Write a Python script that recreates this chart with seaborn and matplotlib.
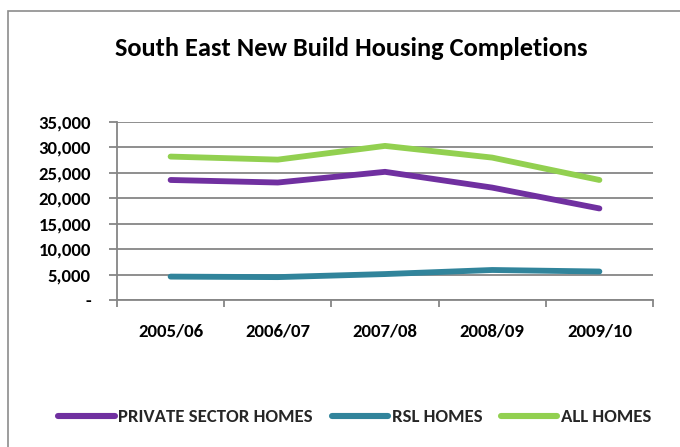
import matplotlib
matplotlib.use("Agg")
import matplotlib.pyplot as plt
import matplotlib.patches as mpatches
from matplotlib.lines import Line2D
from matplotlib.ticker import FixedLocator, FuncFormatter
import seaborn as sns
import pandas as pd

# Housing completions by financial year
years = ["2005/06", "2006/07", "2007/08", "2008/09", "2009/10"]
private_sector = [23600, 23100, 25200, 22100, 18000]
rsl = [4600, 4500, 5100, 5900, 5600]
all_homes = [28200, 27600, 30300, 28000, 23600]

series_names = ["PRIVATE SECTOR HOMES", "RSL HOMES", "ALL HOMES"]
colors = ["#7030A0", "#31849B", "#92D050"]

df = pd.concat([
    pd.DataFrame({"year": years, "pos": range(len(years)), "value": vals, "series": name})
    for name, vals in zip(series_names, [private_sector, rsl, all_homes])
])

sns.set_theme(style="white")
plt.rcParams["font.family"] = ["Carlito", "DejaVu Sans"]
plt.rcParams["font.weight"] = "bold"

fig = plt.figure(figsize=(6.8, 4.47), dpi=100)
fig.patch.set_facecolor("white")

# chart-area frame
fig.patches.append(mpatches.Rectangle((8 / 680, -0.05), 1.2, 1 - 11 / 447 + 0.05,
                                      transform=fig.transFigure, fill=False,
                                      edgecolor="#8c8c8c", linewidth=1.2))

ax = fig.add_axes([117 / 680, 1 - 300 / 447, (653 - 117) / 680, (300 - 122) / 447])

sns.lineplot(data=df, x="pos", y="value", hue="series", hue_order=series_names,
             palette=colors, linewidth=4.2, sort=False, legend=False, ax=ax,
             solid_capstyle="round")

ax.set_xlim(-0.5, len(years) - 0.5)
ax.set_ylim(0, 35000)
ax.set_xlabel("")
ax.set_ylabel("")

ax.yaxis.set_major_locator(FixedLocator(range(0, 35001, 5000)))
ax.yaxis.set_major_formatter(FuncFormatter(lambda v, p: "-" if v == 0 else f"{int(v):,}"))
ax.grid(axis="y", color="#868686", linewidth=1.3)
ax.set_axisbelow(True)

ax.set_xticks(range(len(years)))
ax.set_xticklabels(years)
ax.set_xticks([i - 0.5 for i in range(len(years) + 1)], minor=True)
ax.xaxis.set_tick_params(which="major", length=0, pad=17, labelsize=13.5, labelcolor="black")
ax.xaxis.set_tick_params(which="minor", length=5, width=1.3, color="#868686", direction="out", bottom=True)
ax.yaxis.set_tick_params(which="major", length=6, width=1.3, color="#868686", direction="out",
                         left=True, pad=12.8, labelsize=13.5, labelcolor="black")
for lbl in ax.get_xticklabels() + ax.get_yticklabels():
    lbl.set_fontweight("bold")

for side in ["top", "right"]:
    ax.spines[side].set_visible(False)
for side in ["left", "bottom"]:
    ax.spines[side].set_color("#868686")
    ax.spines[side].set_linewidth(1.3)

fig.text(351 / 680, 1 - 48 / 447, "South East New Build Housing Completions",
         ha="center", va="center", fontsize=19, fontweight="bold", color="black")

handles = [Line2D([], [], color=c, linewidth=4.4, solid_capstyle="round") for c in colors]
fig.legend(handles, series_names, loc="center", bbox_to_anchor=(355 / 680, 1 - 417 / 447),
           ncol=3, frameon=False, handlelength=3.0, handletextpad=0.2, columnspacing=1.0,
           prop={"family": "Carlito", "weight": "bold", "size": 13.5})

fig.savefig("out.png", dpi=100, facecolor="white")
